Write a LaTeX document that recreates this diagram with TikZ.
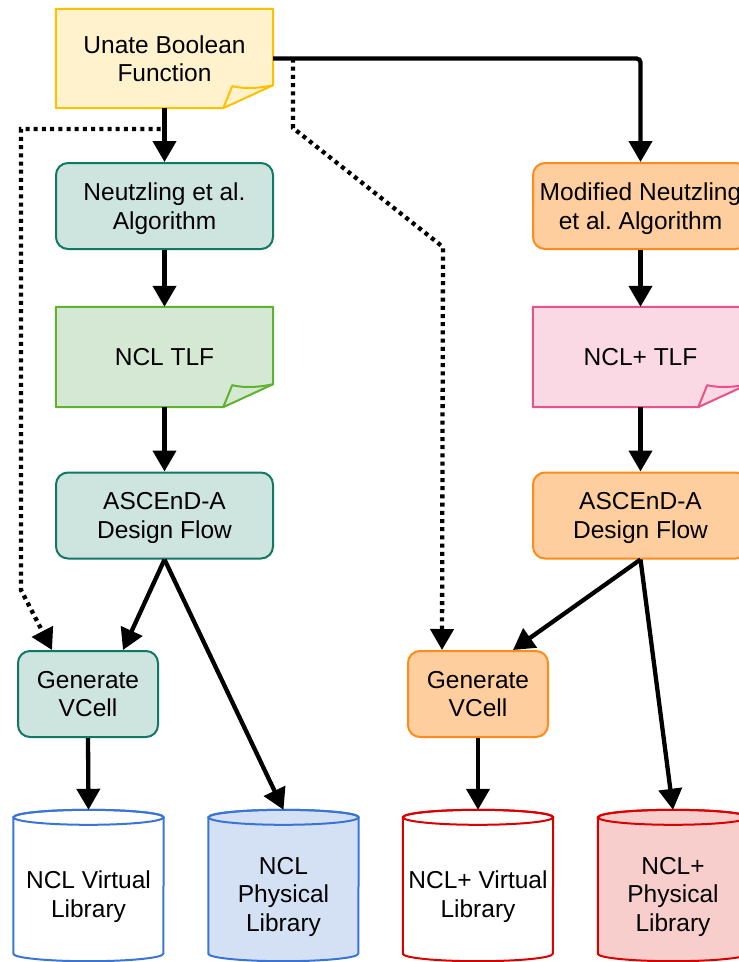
\documentclass[tikz,border=0pt]{standalone}
\usepackage{fontspec}
\setmainfont{Liberation Sans}
\usetikzlibrary{arrows.meta,calc,backgrounds}
\frenchspacing
\definecolor{ylwD}{HTML}{FFC000}
\definecolor{ylwF}{HTML}{FFF2CC}
\definecolor{tealD}{HTML}{107864}
\definecolor{tealF}{HTML}{CDE4DF}
\definecolor{grnD}{HTML}{60B22E}
\definecolor{grnF}{HTML}{D5E8D4}
\definecolor{pnkD}{HTML}{E8528A}
\definecolor{pnkF}{HTML}{FAD8E4}
\definecolor{orD}{HTML}{FF8C1A}
\definecolor{orF}{HTML}{FFCE9F}
\definecolor{bluD}{HTML}{3A75D6}
\definecolor{bluF}{HTML}{D4E1F5}
\definecolor{redD}{HTML}{D90000}
\definecolor{redF}{HTML}{F8CECC}
\newcommand\drawnote[3]{%
  \filldraw[draw=#2, fill=#3, line width=2pt, line join=round]
    (#1.north west) -- (#1.north east) -- ($(#1.south east)+(0,-23)$)
    -- ($(#1.south east)+(-50,0)$) -- (#1.south west) -- cycle;
  \draw[draw=#2, line width=2pt, line join=round]
    ($(#1.south east)+(-50,0)$) -- ($(#1.south east)+(-41,-22)$)
    .. controls ($(#1.south east)+(-28,-19)$) and ($(#1.south east)+(-14,-20)$)
    .. ($(#1.south east)+(0,-23)$);
}
\newcommand\drawcyl[3]{%
  \filldraw[draw=#2, fill=#3, line width=2pt]
    ($(#1.north west)+(0,7.5)$) -- ($(#1.south west)+(0,-7.5)$)
    arc[start angle=180, end angle=0, x radius=75, y radius=7.5]
    -- ($(#1.north east)+(0,7.5)$)
    arc[start angle=0, end angle=-180, x radius=75, y radius=7.5] -- cycle;
  \draw[draw=#2, line width=2pt] ($(#1.north)+(0,7.5)$) ellipse[x radius=75, y radius=7.5];
}
\begin{document}
\begin{tikzpicture}[x=1pt,y=-1pt,
  txt/.style={font=\fontsize{24.5}{28.5}\selectfont, align=center, text depth=0pt, inner sep=0pt},
  rbox/.style={txt, rounded corners=12pt, draw, line width=2pt, minimum width=217pt, minimum height=86pt},
  tealbox/.style={rbox, draw=tealD, fill=tealF},
  orbox/.style={rbox, draw=orD, fill=orF, minimum width=215pt},
  notearea/.style={txt, minimum width=217pt, minimum height=99pt},
  tlfarea/.style={txt, minimum width=217pt, minimum height=100pt},
  cylarea/.style={inner sep=0pt, minimum width=150pt, minimum height=151pt},
  arr/.style={line width=4.3pt, -{Triangle[width=23pt,length=21pt]}},
  dotarr/.style={arr, dash pattern=on 4pt off 4.2pt}
]
\useasboundingbox (0,0) rectangle (739,962);
\clip (0,0) rectangle (739,962);

% nodes
\node[notearea] (ubf) at (164.5,58.5) {Unate Boolean\\Function};
\node[tealbox] (nalg) at (164.5,206) {Neutzling et al.\\Algorithm};
\node[tlfarea] (ntlf) at (164.5,357) {NCL TLF};
\node[tealbox] (nasc) at (164.5,515.5) {ASCEnD-A\\Design Flow};
\node[tealbox, minimum width=140pt] (gvl) at (88,694) {Generate\\VCell};

\node[orbox] (malg) at (640.5,206) {Modified Neutzling\\et al. Algorithm};
\node[tlfarea, minimum width=215pt] (mtlf) at (640.5,357) {NCL+ TLF};
\node[orbox] (masc) at (640.5,515.5) {ASCEnD-A\\Design Flow};
\node[orbox, minimum width=140pt] (gvr) at (478,694) {Generate\\VCell};

\node[cylarea] (ncv) at (88.5,885.5) {};
\node[cylarea] (npl) at (283.5,885.5) {};
\node[cylarea] (mcv) at (478,885.5) {};
\node[cylarea] (mpl) at (673,885.5) {};

\begin{pgfonlayer}{background}
  \clip (0,0) rectangle (739,962);
  \drawnote{ubf}{ylwD}{ylwF}
  \drawnote{ntlf}{grnD}{grnF}
  \drawnote{mtlf}{pnkD}{pnkF}
  \drawcyl{ncv}{bluD}{white}
  \drawcyl{npl}{bluD}{bluF}
  \drawcyl{mcv}{redD}{white}
  \drawcyl{mpl}{redD}{redF}
\end{pgfonlayer}

\node[txt] (ncvt) at (88.5,894) {NCL Virtual\\Library};
\node[txt] (nplt) at (283.5,894) {NCL\\Physical\\Library};
\node[txt] (mcvt) at (478,894) {NCL+ Virtual\\Library};
\node[txt] (mplt) at (673,894) {NCL+\\Physical\\Library};

% helper coordinates
\coordinate (l1) at (21,129);
\coordinate (l2) at (21,590);
\coordinate (r0) at (293,58.5);
\coordinate (r1) at (293,128);
\coordinate (r2) at (443,247);

% dotted connectors
\draw[dotarr] (ubf.south) |- (l1) -- (l2) -- ($(gvl.north west)+(35,0)$);
\draw[dotarr] (r0) -- (r1) -- (r2) -- ($(gvr.north west)+(35,0)$);

% solid connectors
\draw[arr] (ubf.south) -- (nalg.north);
\draw[arr, rounded corners=4pt] (ubf.east) -| (malg.north);
\draw[arr] (nalg.south) -- (ntlf.north);
\draw[arr] (ntlf.south) -- (nasc.north);
\draw[arr] (nasc.south) -- ($(gvl.north east)+(-36,0)$);
\draw[arr] (nasc.south) -- (npl.north);
\draw[arr] (gvl.south) -- (ncv.north);
\draw[arr] (malg.south) -- (mtlf.north);
\draw[arr] (mtlf.south) -- (masc.north);
\draw[arr] (masc.south) -- ($(gvr.north east)+(-36,0)$);
\draw[arr] (masc.south) -- (mpl.north);
\draw[arr] (gvr.south) -- (mcv.north);
\end{tikzpicture}
\end{document}
